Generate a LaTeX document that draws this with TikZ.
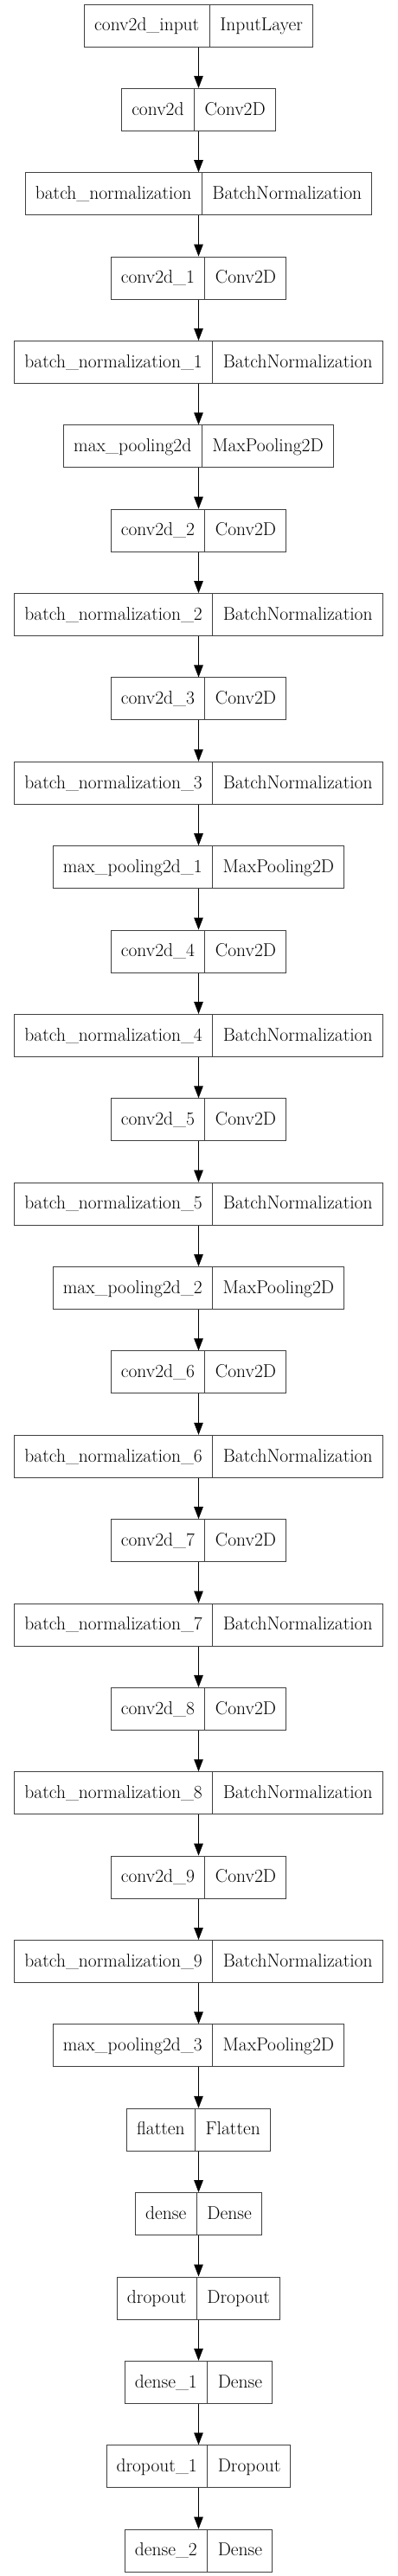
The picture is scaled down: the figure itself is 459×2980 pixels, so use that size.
\documentclass[tikz,border=0pt]{standalone}
\usetikzlibrary{positioning, shapes.multipart, arrows.meta}

\newcommand{\lstrut}{\rule[-6.3pt]{0pt}{25pt}}

\tikzset{
  layer/.style={draw=black!75, line width=1pt, rectangle split, rectangle split horizontal,
    rectangle split parts=2, inner xsep=11.5pt, inner ysep=12pt,
    font=\fontsize{21.5}{24}\selectfont},
  flow/.style={-{Triangle[length=14pt, width=10.5pt]}, line width=1pt}
}

\begin{document}
\begin{tikzpicture}[x=1pt, y=1pt, node distance=97.37pt, on grid]
  \useasboundingbox (0,0) rectangle (459,-2980);
  \node[layer] (l1) at (229.5,-29.5) {\lstrut conv2d\_input\nodepart{two}\lstrut InputLayer};
  \foreach \lname/\ltype [count=\i from 2] in {
      conv2d/Conv2D, batch\_normalization/BatchNormalization,
      conv2d\_1/Conv2D, batch\_normalization\_1/BatchNormalization,
      max\_pooling2d/MaxPooling2D,
      conv2d\_2/Conv2D, batch\_normalization\_2/BatchNormalization,
      conv2d\_3/Conv2D, batch\_normalization\_3/BatchNormalization,
      max\_pooling2d\_1/MaxPooling2D,
      conv2d\_4/Conv2D, batch\_normalization\_4/BatchNormalization,
      conv2d\_5/Conv2D, batch\_normalization\_5/BatchNormalization,
      max\_pooling2d\_2/MaxPooling2D,
      conv2d\_6/Conv2D, batch\_normalization\_6/BatchNormalization,
      conv2d\_7/Conv2D, batch\_normalization\_7/BatchNormalization,
      conv2d\_8/Conv2D, batch\_normalization\_8/BatchNormalization,
      conv2d\_9/Conv2D, batch\_normalization\_9/BatchNormalization,
      max\_pooling2d\_3/MaxPooling2D,
      flatten/Flatten, dense/Dense, dropout/Dropout,
      dense\_1/Dense, dropout\_1/Dropout, dense\_2/Dense} {
    \pgfmathtruncatemacro\prev{\i-1}
    \node[layer, below=of l\prev] (l\i) {\lstrut\lname\nodepart{two}\lstrut\ltype};
    \draw[flow] (l\prev) -- (l\i);
  }
\end{tikzpicture}
\end{document}
